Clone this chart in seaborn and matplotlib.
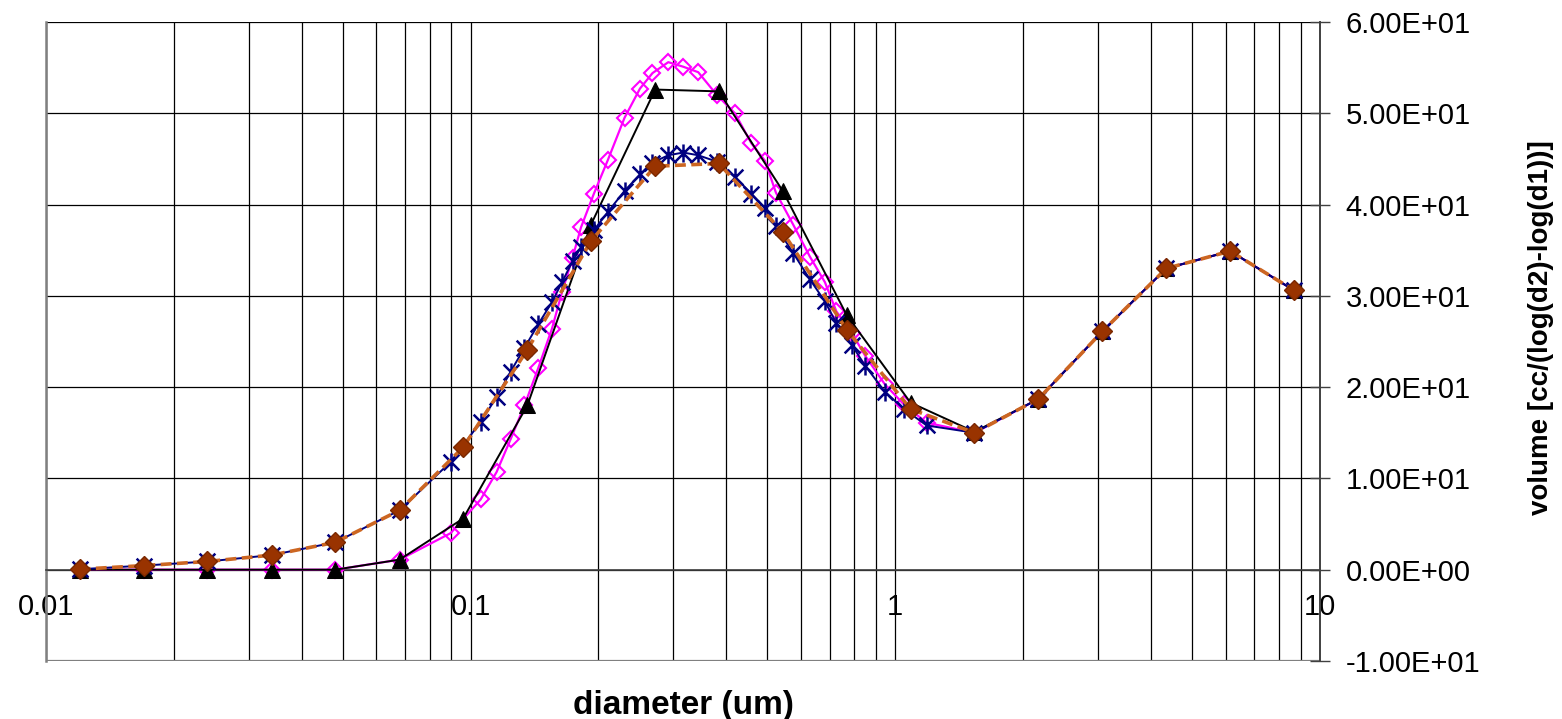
import seaborn as sns
import matplotlib.pyplot as plt
from matplotlib.path import Path
from matplotlib.ticker import LogLocator, FixedLocator, FuncFormatter, NullFormatter

# diameters on the coarse grid (black / brown series)
coarse_d = [0.012, 0.017, 0.024, 0.034, 0.048, 0.068, 0.096, 0.136, 0.192, 0.272,
            0.384, 0.543, 0.768, 1.086, 1.536, 2.172, 3.072, 4.345, 6.144, 8.689]

# diameters for the finer series (magenta / blue)
fine_d = [0.012, 0.017, 0.024, 0.034, 0.048, 0.068,
          0.0897, 0.1056, 0.1151, 0.1242, 0.1339, 0.1443, 0.1554, 0.1641, 0.1738, 0.1819,
          0.1951, 0.2105, 0.2303, 0.2504, 0.2680, 0.2920, 0.3167, 0.3435, 0.3801, 0.4192,
          0.4583, 0.4932, 0.5235, 0.5748, 0.6292, 0.6826, 0.7264, 0.7904, 0.8503, 0.9451,
          1.048, 1.185,
          1.536, 2.172, 3.072, 4.345, 6.144, 8.689]

black_vol = [0.0, 0.0, 0.0, 0.0, 0.0, 1.1, 5.6, 18.0, 37.8, 52.6,
             52.4, 41.5, 27.9, 18.3, 15.1, 18.7, 26.1, 33.0, 34.9, 30.6]

brown_vol = [0.05, 0.45, 0.9, 1.6, 3.0, 6.5, 13.4, 24.1, 36.0, 44.2,
             44.5, 37.0, 26.3, 17.6, 15.0, 18.7, 26.1, 33.0, 34.9, 30.6]

magenta_vol = [0.0, 0.0, 0.0, 0.0, 0.0, 1.1,
               4.0, 7.7, 10.7, 14.3, 18.0, 22.1, 26.4, 30.4, 34.2, 37.5,
               41.2, 44.9, 49.5, 52.7, 54.4, 55.6, 55.1, 54.5, 52.0, 50.0,
               46.7, 44.8, 41.3, 37.8, 34.3, 31.5, 28.3, 25.9, 23.4, 20.3,
               18.1, 16.1,
               15.0, 18.7, 26.1, 33.0, 34.9, 30.6]

blue_vol = [0.05, 0.45, 0.9, 1.6, 3.0, 6.5,
            11.8, 16.2, 18.9, 21.7, 24.3, 26.9, 29.3, 31.5, 33.8, 35.3,
            37.2, 39.2, 41.5, 43.3, 44.6, 45.4, 45.7, 45.4, 44.7, 43.0,
            41.2, 39.6, 37.6, 34.7, 31.8, 29.4, 27.0, 24.6, 22.3, 19.5,
            17.6, 15.8,
            15.0, 18.7, 26.1, 33.0, 34.9, 30.6]

x_ticks = [0.01, 0.1, 1, 10]
x_tick_labels = ["0.01", "0.1", "1", "10"]
y_ticks = [-10, 0, 10, 20, 30, 40, 50, 60]

sns.set_style("white")
plt.rcParams["font.family"] = ["Liberation Sans", "DejaVu Sans"]
plt.rcParams["text.color"] = "black"

# excel-style star marker: an X plus a vertical bar
star = Path([(-1, -1), (1, 1), (-1, 1), (1, -1), (0, -1.15), (0, 1.15)],
            [Path.MOVETO, Path.LINETO, Path.MOVETO, Path.LINETO, Path.MOVETO, Path.LINETO])

fig = plt.figure(figsize=(15.62, 7.19), dpi=100)
ax = fig.add_axes([0.02945, 0.0807, 0.8156, 0.8887])

common = dict(ax=ax, estimator=None, errorbar=None, sort=False, legend=False)

sns.lineplot(x=fine_d, y=magenta_vol, color="#FF00FF", lw=1.6, marker="D",
             markersize=8.5, markerfacecolor="none", markeredgecolor="#FF00FF",
             markeredgewidth=1.5, zorder=3, **common)
sns.lineplot(x=coarse_d, y=black_vol, color="black", lw=1.4, marker="^",
             markersize=11, markerfacecolor="black", markeredgecolor="black",
             zorder=4, **common)
sns.lineplot(x=fine_d, y=blue_vol, color="#000080", lw=1.4, marker=star,
             markersize=13, markeredgecolor="#000080", markeredgewidth=1.8,
             zorder=5, **common)
sns.lineplot(x=coarse_d, y=brown_vol, color="#CC6622", lw=2.6,
             linestyle=(0, (3, 1.5)), marker="D", markersize=10,
             markerfacecolor="#993300", markeredgecolor="#7A2800",
             markeredgewidth=1.0, zorder=6, **common)

ax.set_xscale("log")
ax.set_xlim(0.01, 10)
ax.set_ylim(-10, 60)

ax.xaxis.set_major_locator(FixedLocator(x_ticks))
ax.xaxis.set_major_formatter(FuncFormatter(lambda v, p: x_tick_labels[x_ticks.index(v)] if v in x_ticks else ""))
ax.xaxis.set_minor_locator(LogLocator(base=10, subs=[2, 3, 4, 5, 6, 7, 8, 9], numticks=20))
ax.xaxis.set_minor_formatter(NullFormatter())
ax.yaxis.set_major_locator(FixedLocator(y_ticks))
ax.yaxis.set_major_formatter(FuncFormatter(lambda v, p: f"{v:.2E}"))

ax.grid(True, which="major", axis="y", color="black", lw=0.9)
ax.grid(True, which="both", axis="x", color="black", lw=0.9)
ax.set_axisbelow(True)
ax.get_ygridlines()[0].set_color("#808080")
ax.get_ygridlines()[0].set_linewidth(1.6)

ax.yaxis.tick_right()
ax.yaxis.set_label_position("right")
ax.tick_params(axis="y", direction="inout", length=15, width=1.0, color="#404040",
               labelsize=21, labelcolor="black", pad=11)
ax.tick_params(axis="x", which="major", direction="out", length=5, width=1.0,
               color="#404040", labelsize=21, labelcolor="black", pad=12)
ax.tick_params(axis="x", which="minor", length=0)

ax.spines["bottom"].set_position(("data", 0))
ax.spines["bottom"].set_color("#404040")
ax.spines["bottom"].set_linewidth(1.2)
ax.spines["top"].set_visible(False)
ax.spines["left"].set_color("#808080")
ax.spines["left"].set_linewidth(1.8)
ax.spines["right"].set_color("#404040")
ax.spines["right"].set_linewidth(1.4)

ax.set_xlabel("diameter (um)", fontsize=24, fontweight="bold", color="black")
ax.xaxis.set_label_coords(0.5, -0.069)
ax.xaxis.label.set_va("center")
ax.set_ylabel("volume [cc/(log(d2)-log(d1))]", fontsize=20, fontweight="bold",
              rotation=90, color="black")
ax.yaxis.set_label_coords(1.1735, 0.521)
ax.yaxis.label.set_va("center")

fig.savefig("out.png", dpi=100)
plt.close(fig)
